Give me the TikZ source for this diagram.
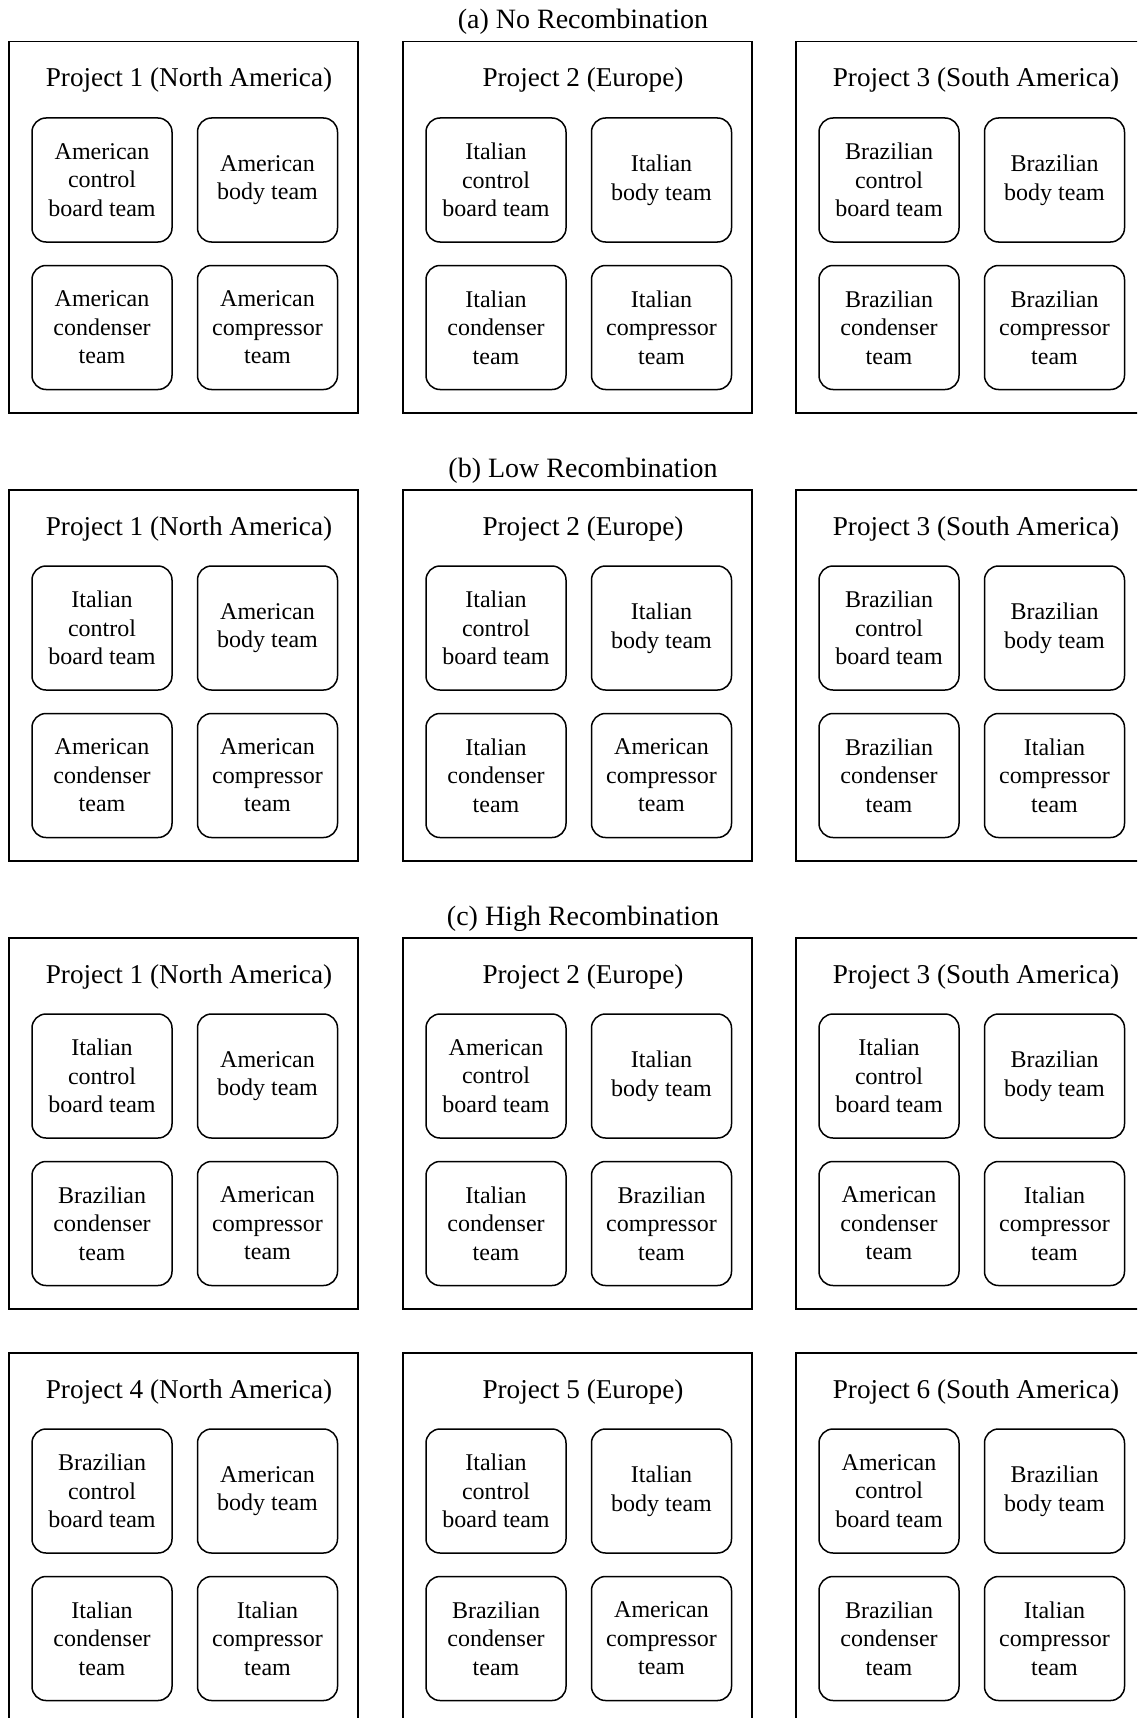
\documentclass[tikz,border=0pt]{standalone}
\usepackage{fontspec}
\setmainfont{Liberation Serif}

\begin{document}
\begin{tikzpicture}[x=0.5pt, y=-0.5pt]
% coordinates are pixels of the original figure, y going down
\providecommand{\projLineWidth}{0.75pt}
\providecommand{\projCornerRadius}{7pt}
\tikzset{
  project/.style={draw, line width=\projLineWidth, anchor=north west, inner sep=0pt,
    minimum width=174.5pt, minimum height=185.5pt},
  projtitle/.style={anchor=base, inner sep=0pt, font=\fontsize{13.6}{16}\selectfont},
  rowtitle/.style={anchor=base, inner sep=0pt, font=\fontsize{14}{16}\selectfont},
  team/.style={draw, line width=\projLineWidth, rounded corners=\projCornerRadius,
    inner sep=0pt, minimum width=70pt, minimum height=62pt, align=center,
    font=\fontsize{12}{14.3}\selectfont},
}
% one project: name, top left corner, title, board, body, condenser, compressor
\newcommand{\projgrid}[7]{%
  \node[project] (#1) at (#2) {};
  \begin{scope}[shift={(#2)}]
    \node[projtitle] (#1-title) at (181,46) {#3};
    \node[team] (#1-board) at (94,139) {#4};
    \node[team] (#1-body) at (259.5,139) {#5};
    \node[team] (#1-cond) at (94,286.5) {#6};
    \node[team] (#1-comp) at (259.5,286.5) {#7};
  \end{scope}
}
\clip (0,0) rectangle (1137,1718);
\fill[white] (0,0) rectangle (1137,1718);

% (a) No Recombination
\node[rowtitle] (rowa) at (583,29) {(a) No Recombination};
\projgrid{pa1}{8,41}{Project 1 (North America)}
  {American\\control\\board team}{American\\body team}
  {American\\condenser\\team}{American\\compressor\\team}
\projgrid{pa2}{402,41}{Project 2 (Europe)}
  {Italian\\control\\board team}{Italian\\body team}
  {Italian\\condenser\\team}{Italian\\compressor\\team}
\projgrid{pa3}{795,41}{Project 3 (South America)}
  {Brazilian\\control\\board team}{Brazilian\\body team}
  {Brazilian\\condenser\\team}{Brazilian\\compressor\\team}

% (b) Low Recombination
\node[rowtitle] (rowb) at (583,477) {(b) Low Recombination};
\projgrid{pb1}{8,489}{Project 1 (North America)}
  {Italian\\control\\board team}{American\\body team}
  {American\\condenser\\team}{American\\compressor\\team}
\projgrid{pb2}{402,489}{Project 2 (Europe)}
  {Italian\\control\\board team}{Italian\\body team}
  {Italian\\condenser\\team}{American\\compressor\\team}
\projgrid{pb3}{795,489}{Project 3 (South America)}
  {Brazilian\\control\\board team}{Brazilian\\body team}
  {Brazilian\\condenser\\team}{Italian\\compressor\\team}

% (c) High Recombination
\node[rowtitle] (rowc) at (583,925) {(c) High Recombination};
\projgrid{pc1}{8,937}{Project 1 (North America)}
  {Italian\\control\\board team}{American\\body team}
  {Brazilian\\condenser\\team}{American\\compressor\\team}
\projgrid{pc2}{402,937}{Project 2 (Europe)}
  {American\\control\\board team}{Italian\\body team}
  {Italian\\condenser\\team}{Brazilian\\compressor\\team}
\projgrid{pc3}{795,937}{Project 3 (South America)}
  {Italian\\control\\board team}{Brazilian\\body team}
  {American\\condenser\\team}{Italian\\compressor\\team}
\projgrid{pc4}{8,1352}{Project 4 (North America)}
  {Brazilian\\control\\board team}{American\\body team}
  {Italian\\condenser\\team}{Italian\\compressor\\team}
\projgrid{pc5}{402,1352}{Project 5 (Europe)}
  {Italian\\control\\board team}{Italian\\body team}
  {Brazilian\\condenser\\team}{American\\compressor\\team}
\projgrid{pc6}{795,1352}{Project 6 (South America)}
  {American\\control\\board team}{Brazilian\\body team}
  {Brazilian\\condenser\\team}{Italian\\compressor\\team}
\end{tikzpicture}
\end{document}
